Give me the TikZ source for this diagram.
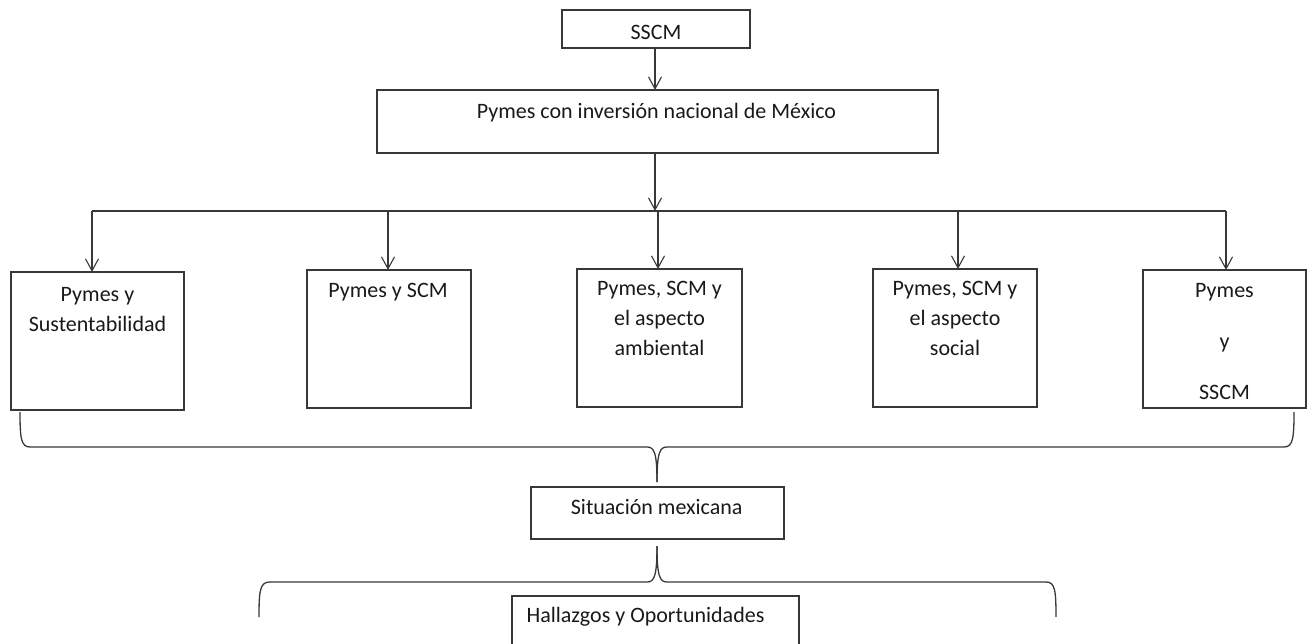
\documentclass[tikz,border=0pt]{standalone}
\usepackage{fontspec}
\setmainfont{Carlito}
\usetikzlibrary{arrows.meta}
\begin{document}
\begin{tikzpicture}[x=1pt,y=-1pt,
  line/.style={draw=black!78,line width=1.3pt},
  box/.style={line,inner sep=0pt,outer sep=0pt},
  arr/.style={line,-{Straight Barb[length=12pt,width=13pt,line width=1.1pt]}},
  txt/.style={inner sep=0pt,align=center,text=black!90,font=\fontsize{22}{30}\selectfont}]
\useasboundingbox (0,0) rectangle (1307,643);
% boxes
\node[box,minimum width=188pt,minimum height=38pt] (sscm) at (656,29) {};
\node[box,minimum width=561pt,minimum height=63pt] (pymes) at (657.5,121.5) {};
\node[box,minimum width=173pt,minimum height=138pt] (b1) at (97.5,341) {};
\node[box,minimum width=164pt,minimum height=138pt] (b2) at (389,339) {};
\node[box,minimum width=165pt,minimum height=138pt] (b3) at (659.5,338) {};
\node[box,minimum width=164pt,minimum height=138pt] (b4) at (955,338) {};
\node[box,minimum width=163pt,minimum height=138pt] (b5) at (1224.5,339) {};
\node[box,minimum width=253pt,minimum height=52pt] (sit) at (657.5,513) {};
\node[box,minimum width=287pt,minimum height=70pt] (hal) at (655.5,631) {};
% texts
\node[txt,anchor=base] (tsscm) at (656,39.8) {SSCM};
\node[txt,anchor=base] (tpymes) at (656.5,118) {Pymes con inversión nacional de México};
\node[txt,anchor=north] (t1) at (97.5,287) {Pymes y\\Sustentabilidad};
\node[txt,anchor=north] (t2) at (388,283) {Pymes y SCM};
\node[txt,anchor=north] (t3) at (659.5,281) {Pymes, SCM y\\el aspecto\\ambiental};
\node[txt,anchor=north] (t4) at (955,281) {Pymes, SCM y\\el aspecto\\social};
\node[txt,anchor=north] (t5) at (1224.5,283.5) {Pymes\\[21pt]y\\[21pt]SSCM};
\node[txt,anchor=base] (tsit) at (656.7,514) {Situación mexicana};
\node[txt,anchor=base] (thal) at (645.5,622) {Hallazgos y Oportunidades};
% connectors
\coordinate (hub) at (655,211);
\coordinate (c1) at (92,211);
\coordinate (c2) at (388,211);
\coordinate (c3) at (658,211);
\coordinate (c4) at (958,211);
\coordinate (c5) at (1226,211);
\draw[arr] (hub |- sscm.south) -- (hub |- pymes.north);
\draw[arr] (hub |- pymes.south) -- (hub);
\draw[line] (c1) -- (c5);
\foreach \c/\b in {c1/b1,c2/b2,c3/b3,c4/b4,c5/b5}
  \draw[arr] (\c) -- (\c |- \b.north);
% brace 1
\coordinate (k1l) at (20,412);
\coordinate (k1m) at (657,482);
\coordinate (k1r) at (1294,412);
\draw[line] (k1l) .. controls (20,438) and (21,447) .. (30,447) -- (647,447)
  .. controls (654,447) and (657,452) .. (k1m);
\draw[line] (k1m) .. controls (657,452) and (660,447) .. (667,447) -- (1284,447)
  .. controls (1293,447) and (1294,438) .. (k1r);
% brace 2
\coordinate (k2l) at (259,617);
\coordinate (k2m) at (657,546);
\coordinate (k2r) at (1056,617);
\draw[line] (k2l) .. controls (259,590) and (260,582) .. (270,582) -- (647,582)
  .. controls (654,582) and (657,577) .. (k2m);
\draw[line] (k2m) .. controls (657,577) and (660,582) .. (667,582) -- (1046,582)
  .. controls (1055,582) and (1056,590) .. (k2r);
\end{tikzpicture}
\end{document}
